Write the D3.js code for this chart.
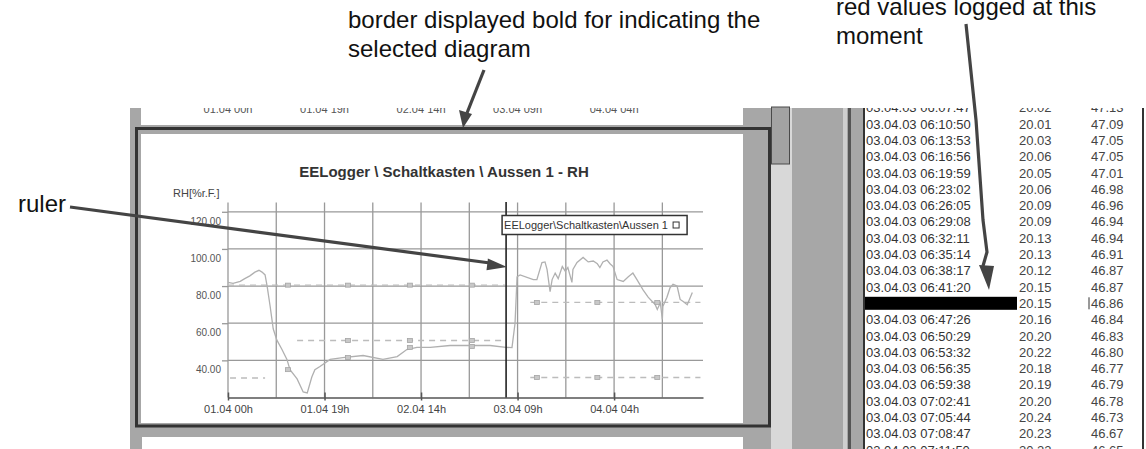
<!DOCTYPE html>
<html>
<head>
<meta charset="utf-8">
<script src="https://cdn.jsdelivr.net/npm/d3@7"></script>
<style>
body { margin: 0; background: #fff; }
svg { display: block; font-family: "Liberation Sans", Arial, sans-serif; }
</style>
</head>
<body>
<div id="chart"></div>
<script>
// RH curve, hours after 01.04 00h
const rhHours = [0, 1.0, 2.4, 3.3, 4.3, 5.3, 6.1, 6.7, 7.3, 7.7, 8.3, 8.9, 9.6, 10.6, 11.6, 12.2, 13.6, 14.8, 15.6, 16.5,
    17.1, 18.1, 20.1, 22.6, 26.6, 30.5, 33.3, 35.2, 37.2, 39.8, 43.7, 47.6, 51.6, 54.7, 55.9, 56.5, 56.9, 57.5, 60.1, 60.8,
    61.8, 62.4, 62.8, 63.4, 63.8, 64.4, 65.0, 65.8, 66.4, 66.9, 67.7, 67.9, 68.7, 69.9, 70.9, 71.9, 72.7, 73.2, 73.8, 74.6,
    75.2, 75.8, 76.6, 77.8, 78.8, 79.7, 80.5, 81.7, 82.7, 83.5, 84.1, 84.5, 85.1, 85.5, 85.6, 86.4, 87.0, 87.6, 88.4, 89.0,
    89.6, 90.4, 91.4];
const rhValues = [82, 81.5, 82.5, 84, 85.5, 87.5, 88.5, 87.5, 86, 80, 69, 57, 51, 46, 40.5, 35, 30, 23, 22.5, 31,
    35, 36.7, 40.5, 41.5, 42.6, 40.5, 42, 45.8, 47, 47, 48, 48, 48, 47, 46.9, 60, 85, 86, 83.5, 83.5,
    92.7, 93, 89, 77, 83.5, 87, 84, 90.5, 88, 90, 82, 89, 92.7, 95.4, 93, 93.5, 92, 90, 93, 94,
    92, 90.5, 83.5, 82.5, 85, 87, 83.5, 78, 74, 71.7, 70, 67.4, 71, 62, 69, 74, 79, 81, 80, 72.8,
    71.7, 70, 76.5];

// dashed limit lines (null = gap)
const upperHours = [0, 54.5, 54.6, 59.5, 93];
const upperValues = [80.5, 80.5, null, 71.2, 71.2];
const lowerHours = [0.4, 7.3, 7.4, 13.6, 54.6, 54.7, 59.5, 93];
const lowerValues = [30.5, 30.5, null, 50.7, 50.7, null, 30.8, 30.8];

// small markers
const markerHours = [11.8, 23.6, 35.8, 48.0, 60.8, 72.7, 84.5];
const markerUpper = [80.5, 80.5, 80.5, 80.5, 71.2, 71.2, 71.2];
const markerLower = [null, 50.7, 50.7, 50.7, 30.8, 30.8, 30.8];
const markerCurve = [35, 41.5, 47, 47.5, null, null, null];

const tickHours = [0, 19, 38, 57, 76];
const tickLabels = ["01.04 00h", "01.04 19h", "02.04 14h", "03.04 09h", "04.04 04h"];
const yTicks = [40, 60, 80, 100, 120];
const rulerHour = 54.74;

// logged values list
const logTimes = ["03.04.03 06:07:47", "03.04.03 06:10:50", "03.04.03 06:13:53", "03.04.03 06:16:56", "03.04.03 06:19:59",
    "03.04.03 06:23:02", "03.04.03 06:26:05", "03.04.03 06:29:08", "03.04.03 06:32:11", "03.04.03 06:35:14",
    "03.04.03 06:38:17", "03.04.03 06:41:20", "03.04.03 06:44:23", "03.04.03 06:47:26", "03.04.03 06:50:29",
    "03.04.03 06:53:32", "03.04.03 06:56:35", "03.04.03 06:59:38", "03.04.03 07:02:41", "03.04.03 07:05:44",
    "03.04.03 07:08:47", "03.04.03 07:11:50"];
const logTemps = ["20.02", "20.01", "20.03", "20.06", "20.05", "20.06", "20.09", "20.09", "20.13", "20.13", "20.12",
    "20.15", "20.15", "20.16", "20.20", "20.22", "20.18", "20.19", "20.20", "20.24", "20.23", "20.22"];
const logRH = ["47.13", "47.09", "47.05", "47.05", "47.01", "46.98", "46.96", "46.94", "46.94", "46.91", "46.87",
    "46.87", "46.86", "46.84", "46.83", "46.80", "46.77", "46.79", "46.78", "46.73", "46.67", "46.65"];
const selectedRow = 12;

let t0 = new Date(2003, 3, 1, 0, 0);
function hr(h) {
    return new Date(t0.getTime() + h * 3600e3);
}

let svg = d3.select("#chart").append("svg")
    .attr("width", 1146)
    .attr("height", 449);

// ---- screenshot frame ----
let shot = svg.append("g");
shot.append("rect").attr("x", 130).attr("y", 108).attr("width", 735).attr("height", 341).attr("fill", "#a7a7a7");
shot.append("rect").attr("x", 141).attr("y", 108).attr("width", 602).attr("height", 17).attr("fill", "#fff");
shot.append("rect").attr("x", 141).attr("y", 134).attr("width", 602).attr("height", 289).attr("fill", "#fff");
shot.append("rect").attr("x", 142).attr("y", 437).attr("width", 601).attr("height", 12).attr("fill", "#fff");
shot.append("rect").attr("x", 136.5).attr("y", 128.5).attr("width", 633).attr("height", 297.5)
    .attr("fill", "none").attr("stroke", "#333").attr("stroke-width", 3);
// scrollbar
shot.append("rect").attr("x", 771).attr("y", 108).attr("width", 21).attr("height", 341).attr("fill", "#d8d8d8");
shot.append("rect").attr("x", 771.5).attr("y", 107).attr("width", 18).attr("height", 57)
    .attr("fill", "#a3a3a3").attr("stroke", "#4a4a4a");
shot.append("rect").attr("x", 843).attr("y", 108).attr("width", 4).attr("height", 341).attr("fill", "#cfcfcf");
shot.append("rect").attr("x", 848).attr("y", 108).attr("width", 3).attr("height", 341).attr("fill", "#555");
// list panel
shot.append("rect").attr("x", 865).attr("y", 108).attr("width", 277).attr("height", 341).attr("fill", "#fff");
shot.append("rect").attr("x", 863).attr("y", 108).attr("width", 2).attr("height", 341).attr("fill", "#333");
shot.append("rect").attr("x", 1142).attr("y", 108).attr("width", 2).attr("height", 341).attr("fill", "#333");

svg.append("defs").append("clipPath").attr("id", "shotClip")
    .append("rect").attr("x", 130).attr("y", 108).attr("width", 1016).attr("height", 341);

// ---- scales ----
let x = d3.scaleTime()
    .domain([hr(0), hr(93.5)])
    .range([228, 703]);
let y = d3.scaleLinear()
    .domain([20, 125])
    .range([397.5, 202.5]);

// labels of the diagram above (cut off)
svg.append("g").attr("clip-path", "url(#shotClip)")
    .selectAll("text").data(tickHours).join("text")
    .attr("x", d => x(hr(d)))
    .attr("y", 113)
    .attr("text-anchor", "middle")
    .attr("font-size", 11)
    .attr("fill", "#555")
    .text((d, i) => tickLabels[i]);

let plot = svg.append("g");

// title
plot.append("text")
    .attr("x", 444).attr("y", 177)
    .attr("text-anchor", "middle")
    .attr("font-size", 15).attr("font-weight", "bold")
    .attr("fill", "#333")
    .text("EELogger \\ Schaltkasten \\ Aussen 1 - RH");
plot.append("text")
    .attr("x", 173).attr("y", 197)
    .attr("font-size", 11).attr("fill", "#444")
    .text("RH[%r.F.]");

// grid
plot.append("g").selectAll("line").data(d3.range(0, 10).map(i => i * 9.5)).join("line")
    .attr("x1", d => x(hr(d))).attr("x2", d => x(hr(d)))
    .attr("y1", y(125)).attr("y2", y(20))
    .attr("stroke", "#999").attr("stroke-width", 1.3);
plot.append("g").selectAll("line").data(yTicks).join("line")
    .attr("x1", 228).attr("x2", 703)
    .attr("y1", d => y(d)).attr("y2", d => y(d))
    .attr("stroke", "#999").attr("stroke-width", 1.3);

let line = d3.line()
    .defined(d => d[1] != null)
    .x(d => x(hr(d[0])))
    .y(d => y(d[1]));

plot.append("path").datum(d3.zip(upperHours, upperValues))
    .attr("fill", "none").attr("stroke", "#bcbcbc").attr("stroke-width", 1.4)
    .attr("stroke-dasharray", "6,5").attr("d", line);
plot.append("path").datum(d3.zip(lowerHours, lowerValues))
    .attr("fill", "none").attr("stroke", "#bcbcbc").attr("stroke-width", 1.4)
    .attr("stroke-dasharray", "6,5").attr("d", line);
plot.append("path").datum(d3.zip(rhHours, rhValues))
    .attr("fill", "none").attr("stroke", "#b0b0b0").attr("stroke-width", 1.3)
    .attr("d", line);

[markerUpper, markerLower, markerCurve].forEach(function (vals) {
    plot.append("g").selectAll("rect")
        .data(d3.zip(markerHours, vals).filter(d => d[1] != null))
        .join("rect")
        .attr("x", d => x(hr(d[0])) - 2.5)
        .attr("y", d => y(d[1]) - 2)
        .attr("width", 5).attr("height", 4)
        .attr("fill", "#c8c8c8").attr("stroke", "#a5a5a5").attr("stroke-width", 0.8);
});

// axes
let xAxis = d3.axisBottom(x)
    .tickValues(tickHours.map(hr))
    .tickFormat((d, i) => tickLabels[i])
    .tickSizeInner(3).tickSizeOuter(0).tickPadding(5);
let gx = plot.append("g").attr("transform", "translate(0,397.5)").call(xAxis);
gx.select(".domain").attr("stroke", "#555").attr("stroke-width", 1.5);
gx.selectAll(".tick line").attr("y1", -5).attr("y2", 3).attr("stroke", "#555").attr("stroke-width", 1.5);
gx.selectAll(".tick text").attr("font-size", 11).attr("fill", "#444")
    .attr("font-family", "Liberation Sans, Arial, sans-serif");

let yAxis = d3.axisLeft(y).tickValues(yTicks).tickFormat(d3.format(".2f")).tickSize(6).tickPadding(1);
let gy = plot.append("g").attr("transform", "translate(228,0)").call(yAxis);
gy.select(".domain").remove();
gy.selectAll(".tick line").attr("stroke", "#999").attr("stroke-width", 1.3);
gy.selectAll(".tick text").attr("dy", "1.25em").attr("font-size", 10).attr("fill", "#555")
    .attr("font-family", "Liberation Sans, Arial, sans-serif");

// ruler
let rx = x(hr(rulerHour));
plot.append("line")
    .attr("x1", rx).attr("x2", rx).attr("y1", 202).attr("y2", 397.5)
    .attr("stroke", "#222").attr("stroke-width", 1.6);
plot.append("rect")
    .attr("x", rx - 4).attr("y", 215.5).attr("width", 185).attr("height", 19)
    .attr("fill", "#fff").attr("stroke", "#333").attr("stroke-width", 1.5);
plot.append("text")
    .attr("x", rx - 2).attr("y", 229)
    .attr("font-size", 11).attr("fill", "#333")
    .text("EELogger\\Schaltkasten\\Aussen 1");
plot.append("rect")
    .attr("x", rx + 167).attr("y", 222).attr("width", 6).attr("height", 6)
    .attr("fill", "none").attr("stroke", "#333");

// ---- logged values list ----
let rowY = d3.scaleLinear().domain([0, logTimes.length - 1]).range([107.7, 450]);
let list = svg.append("g").attr("clip-path", "url(#shotClip)");
list.append("rect")
    .attr("x", 865).attr("y", rowY(selectedRow) - 6.5)
    .attr("width", 152).attr("height", 13)
    .attr("fill", "#000");
list.append("g").selectAll("text").data(logTimes).join("text")
    .attr("x", 866).attr("y", (d, i) => rowY(i) + 4.6)
    .attr("font-size", 13).attr("fill", (d, i) => i === selectedRow ? "#000" : "#333")
    .text(d => d);
list.append("g").selectAll("text").data(logTemps).join("text")
    .attr("x", 1019).attr("y", (d, i) => rowY(i) + 4.6)
    .attr("font-size", 13).attr("fill", "#444")
    .text(d => d);
list.append("g").selectAll("text").data(logRH).join("text")
    .attr("x", 1091).attr("y", (d, i) => rowY(i) + 4.6)
    .attr("font-size", 13).attr("fill", "#444")
    .text(d => d);
list.append("line")
    .attr("x1", 1089).attr("x2", 1089)
    .attr("y1", rowY(selectedRow) - 6).attr("y2", rowY(selectedRow) + 6)
    .attr("stroke", "#333");

// ---- annotations ----
let notes = svg.append("g").attr("font-size", 24).attr("fill", "#111");
notes.append("text").attr("x", 348).attr("y", 28).text("border displayed bold for indicating the");
notes.append("text").attr("x", 348).attr("y", 57).text("selected diagram");
notes.append("text").attr("x", 836).attr("y", 15).text("red values logged at this");
notes.append("text").attr("x", 836).attr("y", 44).text("moment");
notes.append("text").attr("x", 18).attr("y", 212).text("ruler");

let arrowColor = "#444";
svg.append("line").attr("x1", 70).attr("y1", 207).attr("x2", 490).attr("y2", 263)
    .attr("stroke", arrowColor).attr("stroke-width", 3.2);
svg.append("polygon").attr("points", "507,267 487.9,258.4 486.5,270.3").attr("fill", arrowColor);

svg.append("line").attr("x1", 484).attr("y1", 70).attr("x2", 467).attr("y2", 113)
    .attr("stroke", arrowColor).attr("stroke-width", 3.2);
svg.append("polygon").attr("points", "463,128 459,110 472,114").attr("fill", arrowColor);

svg.append("polyline").attr("points", "966,24 976,120 983,220 987,252 983,266")
    .attr("fill", "none").attr("stroke", arrowColor).attr("stroke-width", 3.2);
svg.append("polygon").attr("points", "979,265 994,266 989,290").attr("fill", arrowColor);
</script>
</body>
</html>
